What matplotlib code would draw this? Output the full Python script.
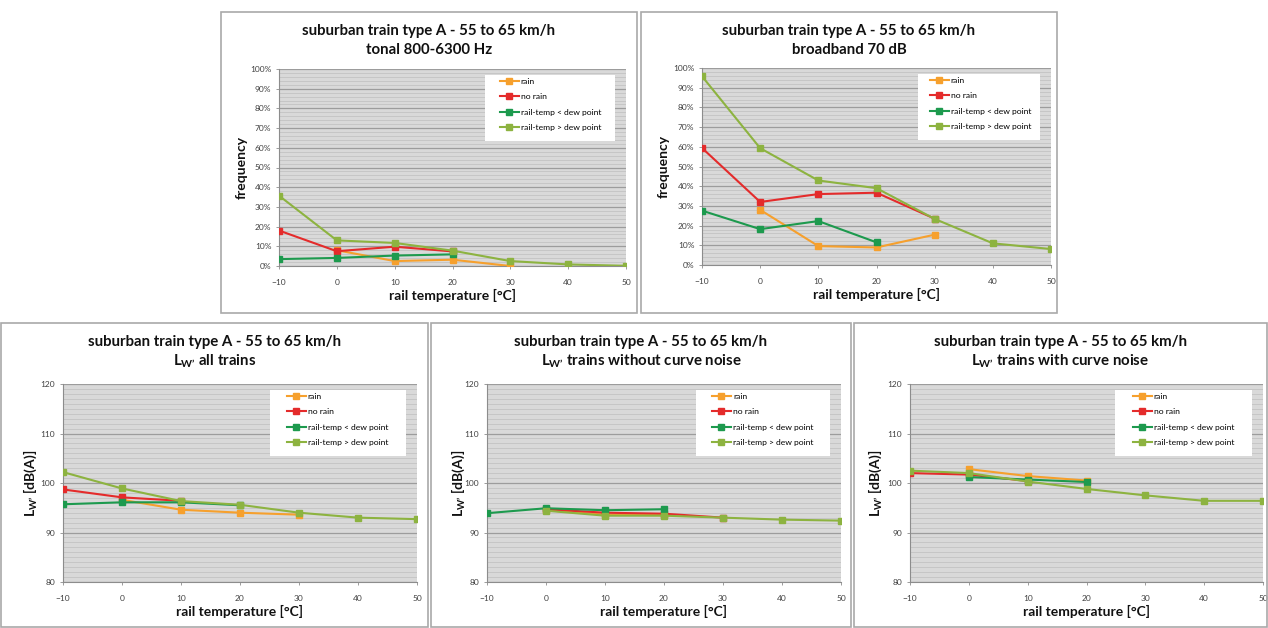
import numpy as np
import matplotlib
matplotlib.use("Agg")
import matplotlib.pyplot as plt
from matplotlib.patches import Rectangle
from matplotlib.ticker import MultipleLocator, FuncFormatter

plt.rcParams["font.family"] = ["Lato", "DejaVu Sans"]
plt.rcParams["mathtext.fontset"] = "custom"
plt.rcParams["mathtext.rm"] = "Lato"
plt.rcParams["mathtext.bf"] = "Lato:bold"
plt.rcParams["mathtext.it"] = "Lato:italic"

nan = np.nan
temps = [-10, 0, 10, 20, 30, 40, 50]
series_names = ["rain", "no rain", "rail-temp < dew point", "rail-temp > dew point"]
series_colors = ["#f6a02d", "#e42b2b", "#1d9a4e", "#8db340"]

title_top = "suburban train type A - 55 to 65 km/h"
xlabel = "rail temperature [°C]"

# tonal 800-6300 Hz (frequency, %)
tonal_rain = [nan, 8.0, 2.5, 3.2, 0.0, nan, nan]
tonal_norain = [18.0, 7.5, 9.8, 7.4, nan, nan, nan]
tonal_below = [3.5, 4.1, 5.3, 5.9, nan, nan, nan]
tonal_above = [35.7, 13.0, 11.7, 7.8, 2.5, 0.8, 0.1]

# broadband 70 dB (frequency, %)
broad_rain = [nan, 28.0, 9.6, 8.9, 15.4, nan, nan]
broad_norain = [59.4, 32.0, 36.0, 36.7, 23.5, nan, nan]
broad_below = [27.6, 18.2, 22.3, 11.5, nan, nan, nan]
broad_above = [95.8, 59.3, 42.9, 39.0, 23.4, 11.0, 8.1]

# LW' all trains (dB(A))
all_rain = [nan, 96.6, 94.6, 94.0, 93.6, nan, nan]
all_norain = [98.7, 97.1, 96.4, nan, nan, nan, nan]
all_below = [95.7, 96.1, 96.1, 95.5, nan, nan, nan]
all_above = [102.2, 98.9, 96.35, 95.6, 94.0, 93.0, 92.7]

# LW' trains without curve noise
nocurve_rain = [nan, 94.5, 93.6, 93.5, nan, nan, nan]
nocurve_norain = [nan, 94.7, 94.0, 93.8, 93.0, nan, nan]
nocurve_below = [93.9, 94.9, 94.5, 94.7, nan, nan, nan]
nocurve_above = [nan, 94.4, 93.4, 93.4, 93.0, 92.6, 92.4]

# LW' trains with curve noise
curve_rain = [nan, 102.8, 101.4, 100.5, nan, nan, nan]
curve_norain = [102.0, 101.7, 100.4, nan, nan, nan, nan]
curve_below = [nan, 101.2, 100.7, 100.2, nan, nan, nan]
curve_above = [102.5, 102.0, 100.3, 98.8, 97.5, 96.4, 96.4]

lw_sym = "$\\mathbf{L_{W\u2019}}$"
lw_label = lw_sym + " [dB(A)]"

W, H = 1268, 628
fig = plt.figure(figsize=(W / 100, H / 100), dpi=100)

# pixel boxes: frame (x0, y0, x1, y1) and plot area (x0, y0, x1, y1)
panels = [
    dict(frame=(221, 12, 637, 313), area=(279, 69, 626, 266),
         data=[tonal_rain, tonal_norain, tonal_below, tonal_above],
         sub="tonal 800-6300 Hz", ylabel="frequency", pct=True,
         ylab_x=242, leg_x0=0.594, leg_h=0.637),
    dict(frame=(641, 12, 1057, 313), area=(702, 68, 1051, 265),
         data=[broad_rain, broad_norain, broad_below, broad_above],
         sub="broadband 70 dB", ylabel="frequency", pct=True,
         ylab_x=664, leg_x0=0.619, leg_h=0.653),
    dict(frame=(1, 323, 428, 627), area=(63, 384, 417, 582),
         data=[all_rain, all_norain, all_below, all_above],
         sub=lw_sym + " all trains", ylabel=lw_label, pct=False,
         ylab_x=30, leg_x0=0.585, leg_h=0.633),
    dict(frame=(431, 323, 851, 627), area=(487, 384, 841, 582),
         data=[nocurve_rain, nocurve_norain, nocurve_below, nocurve_above],
         sub=lw_sym + " trains without curve noise", ylabel=lw_label, pct=False,
         ylab_x=458, leg_x0=0.590, leg_h=0.636),
    dict(frame=(854, 323, 1267, 627), area=(910, 384, 1263, 582),
         data=[curve_rain, curve_norain, curve_below, curve_above],
         sub=lw_sym + " trains with curve noise", ylabel=lw_label, pct=False,
         ylab_x=875, leg_x0=0.581, leg_h=0.632),
]

for p in panels:
    fx0, fy0, fx1, fy1 = p["frame"]
    fig.add_artist(Rectangle((fx0 / W, 1 - fy1 / H), (fx1 - fx0) / W, (fy1 - fy0) / H,
                             transform=fig.transFigure, fill=False,
                             edgecolor="#a9a9a9", linewidth=1.2))
    cx = (fx0 + fx1) / 2
    fig.text(cx / W, 1 - (fy0 + 19) / H, title_top, ha="center", va="center",
             fontsize=10.8, fontweight="bold", color="#111111")
    fig.text(cx / W, 1 - (fy0 + 38) / H, p["sub"], ha="center", va="center",
             fontsize=10.8, fontweight="bold", color="#111111")

    ax0, ay0, ax1, ay1 = p["area"]
    ax = fig.add_axes([ax0 / W, 1 - ay1 / H, (ax1 - ax0) / W, (ay1 - ay0) / H])
    ax.set_facecolor("#d9d9d9")
    ax.set_axisbelow(True)

    if p["pct"]:
        ax.set_ylim(0, 100)
        ax.yaxis.set_major_locator(MultipleLocator(10))
        ax.yaxis.set_minor_locator(MultipleLocator(2))
        ax.yaxis.set_major_formatter(FuncFormatter(lambda v, pos: f"{v:.0f}%"))
    else:
        ax.set_ylim(80, 120)
        ax.yaxis.set_major_locator(MultipleLocator(10))
        ax.yaxis.set_minor_locator(MultipleLocator(1))
    ax.set_xlim(-10, 50)
    ax.set_xticks(temps)

    ax.grid(which="minor", axis="y", color="#c6c6c6", linewidth=0.7)
    ax.grid(which="major", axis="y", color="#9c9c9c", linewidth=0.9)
    for side in ["top", "right"]:
        ax.spines[side].set_visible(False)
    for side in ["left", "bottom"]:
        ax.spines[side].set_color("#8c8c8c")
        ax.spines[side].set_linewidth(0.8)
    ax.tick_params(axis="both", which="major", labelsize=6, labelcolor="#404040",
                   color="#8c8c8c", length=2.5, width=0.6)
    ax.tick_params(axis="x", pad=7)
    ax.tick_params(axis="y", pad=3)
    ax.tick_params(which="minor", length=0)

    lines = []
    for vals, name, col in zip(p["data"], series_names, series_colors):
        ln, = ax.plot(temps, vals, color=col, linewidth=1.5, marker="s",
                      markersize=5, markerfacecolor=col, markeredgecolor=col,
                      label=name, zorder=3)
        lines.append(ln)

    # white legend panel
    ax.add_patch(Rectangle((p["leg_x0"], 0.635), 0.968 - p["leg_x0"], 0.333,
                           transform=ax.transAxes, facecolor="white",
                           edgecolor="none", zorder=2.5))
    ax.legend(handles=lines, loc="upper left", bbox_to_anchor=(p["leg_h"], 0.955),
              frameon=False, fontsize=6.1, labelspacing=1.0, handlelength=2.2,
              handletextpad=0.25, borderpad=0, borderaxespad=0, markerscale=0.75)

    ax.text(0.5, -29 / (ay1 - ay0), xlabel, transform=ax.transAxes,
            ha="center", va="center", fontsize=10, fontweight="bold", color="#111111")
    ax.text((p["ylab_x"] - ax0) / (ax1 - ax0), 0.5, p["ylabel"], transform=ax.transAxes,
            ha="center", va="center", rotation=90, fontsize=10, fontweight="bold",
            color="#111111")

fig.savefig("out.png", dpi=100, facecolor="white")
